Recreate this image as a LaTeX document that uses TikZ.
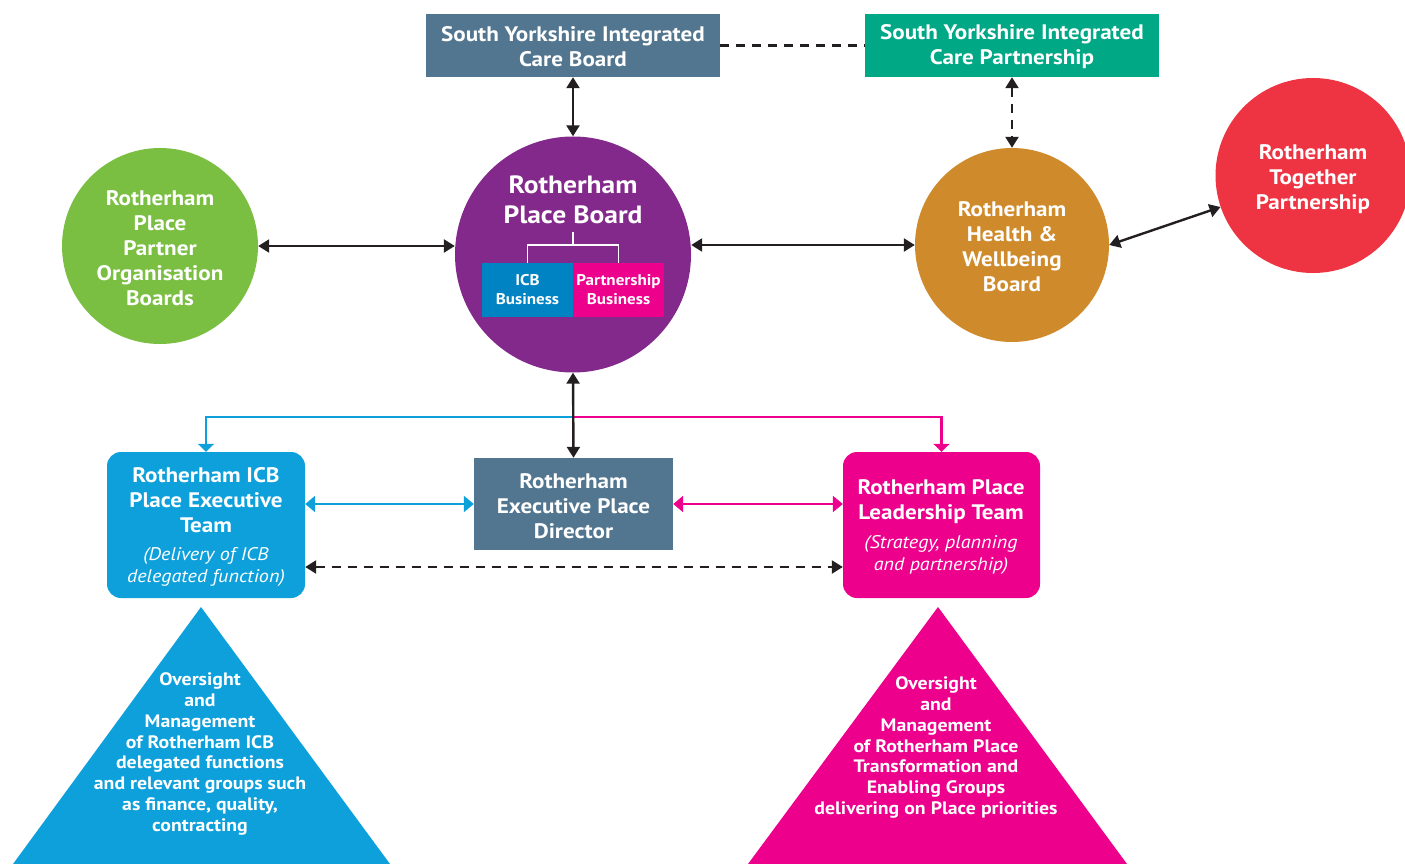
\documentclass[tikz,border=0pt]{standalone}
\usepackage{fontspec}
\setmainfont{PT Sans}[FakeStretch=1.1]
\usetikzlibrary{arrows.meta}
\definecolor{slate}{HTML}{52768F}
\definecolor{icpgreen}{HTML}{00A886}
\definecolor{purp}{HTML}{84298C}
\definecolor{lgreen}{HTML}{7BBF42}
\definecolor{amber}{HTML}{CF8B2B}
\definecolor{rred}{HTML}{EE3342}
\definecolor{dblue}{HTML}{0083C3}
\definecolor{cblue}{HTML}{0EA0DB}
\definecolor{pink}{HTML}{EC008C}
\definecolor{ink}{HTML}{231F20}
\tikzset{
  lbl/.style={text=white, font=\bfseries\fontsize{21}{25}\selectfont, align=center},
  topbox/.style={rectangle, inner sep=0pt, minimum width=294pt, minimum height=63pt},
  circ/.style={circle, inner sep=0pt},
  conn/.style={line width=2.4pt, draw=ink, {Triangle[length=11pt,width=13pt]}-{Triangle[length=11pt,width=13pt]}},
  dashy/.style={dash pattern=on 9pt off 7pt},
  cconn/.style={line width=2.4pt, {Triangle[length=10pt,width=16pt]}-{Triangle[length=10pt,width=16pt]}},
  small/.style={text=white, font=\bfseries\fontsize{15.5}{19}\selectfont, align=center, inner sep=0pt, minimum width=91pt, minimum height=54pt},
  ital/.style={text=white, font=\itshape\fontsize{18.3}{22}\selectfont, align=center},
  tri/.style={text=white, font=\bfseries\fontsize{18}{20.9}\selectfont, align=center},
}
\begin{document}
\begin{tikzpicture}[x=1pt,y=-1pt]
\useasboundingbox (0,0) rectangle (1405,864);
\clip (0,0) rectangle (1405,864);
% top boxes
\node[topbox, fill=slate] (syicb) at (573,45.5) {};
\node[lbl] (syicbt) at (573,47) {South Yorkshire Integrated\\Care Board};
\node[topbox, fill=icpgreen] (syicp) at (1012,45.5) {};
\node[lbl] (syicpt) at (1012,47) {South Yorkshire Integrated\\Care Partnership};
% circles
\node[circ, fill=purp, minimum size=236pt] (pb) at (573,254.5) {};
\node[circ, fill=lgreen, minimum size=196pt] (rpp) at (160,246) {};
\node[lbl] (rppt) at (160,248) {Rotherham\\Place\\Partner\\Organisation\\Boards};
\node[circ, fill=amber, minimum size=194pt] (hwb) at (1012,245) {};
\node[lbl] (hwbt) at (1012,246.5) {Rotherham\\Health \&\\Wellbeing\\Board};
\node[circ, fill=rred, minimum size=195pt] (rtp) at (1313,175.5) {};
\node[lbl] (rtpt) at (1313,179) {Rotherham\\Together\\Partnership};
% place board contents
\node[lbl, font=\bfseries\fontsize{25}{30}\selectfont] (pbt) at (573,199.5) {Rotherham\\Place Board};
\node[small, fill=dblue] (icbbus) at (527.5,290) {ICB\\Business};
\node[small, fill=pink] (ptbus) at (618.5,290) {Partnership\\Business};
\coordinate (brk) at (573,232);
\draw[white, line width=1.2pt] (brk) -- ++(0,13) -| (icbbus.north);
\draw[white, line width=1.2pt] (brk) ++(0,13) -| (ptbus.north);
% lower boxes
\node[rectangle, rounded corners=14pt, fill=cblue, minimum width=198pt, minimum height=146pt] (icbt) at (206,525) {};
\node[lbl] (icbtt) at (206,500.5) {Rotherham ICB\\Place Executive\\Team};
\node[ital] (icbts) at (206,566.5) {(Delivery of ICB\\delegated function)};
\node[rectangle, fill=slate, minimum width=199pt, minimum height=92pt] (dir) at (573.5,504) {};
\node[lbl] (dirt) at (573.5,506) {Rotherham\\Executive Place\\Director};
\node[rectangle, rounded corners=14pt, fill=pink, minimum width=197pt, minimum height=146pt] (plt) at (941.5,525) {};
\node[lbl] (pltt) at (941,501.5) {Rotherham Place\\Leadership Team};
\node[ital] (plts) at (941,554.5) {(Strategy, planning\\and partnership)};
% triangles
\fill[cblue] (201,607) -- (13,864) -- (390,864) -- cycle;
\node[tri] (trib) at (200,754) {Oversight\\and\\Management\\of Rotherham ICB\\delegated functions\\and relevant groups such\\as finance, quality,\\contracting};
\fill[pink] (938,607) -- (748,864) -- (1127,864) -- cycle;
\node[tri] (trip) at (936,747.5) {Oversight\\and\\Management\\of Rotherham Place\\Transformation and\\Enabling Groups\\delivering on Place priorities};
% connectors
\draw[ink, line width=2.4pt, dashy] (syicb.east) -- (syicp.west);
\draw[conn] (syicb.south) -- (pb.north);
\draw[conn, dashy] (syicp.south) -- (hwb.north);
\draw[conn] (rpp.east) -- (rpp.east -| pb.west);
\draw[conn] (pb.east |- hwb.west) -- (hwb.west);
\draw[conn] (hwb.east) -- (rtp);
\coordinate (j) at (573,417);
\draw[cblue, line width=2.2pt, -{Triangle[length=8pt,width=16pt]}] (j) -| (icbt.north);
\draw[pink, line width=2.2pt, -{Triangle[length=8pt,width=16pt]}] (j) -| (plt.north);
\draw[conn] (pb.south) -- (dir.north);
\draw[cconn, cblue] (icbt.east |- dir.west) -- (dir.west);
\draw[cconn, pink] (dir.east) -- (plt.west |- dir.east);
\coordinate (dl) at (icbt.east |- 0,567);
\coordinate (dr) at (plt.west |- 0,567);
\draw[conn, dashy] (dl) -- (dr);
\end{tikzpicture}
\end{document}
